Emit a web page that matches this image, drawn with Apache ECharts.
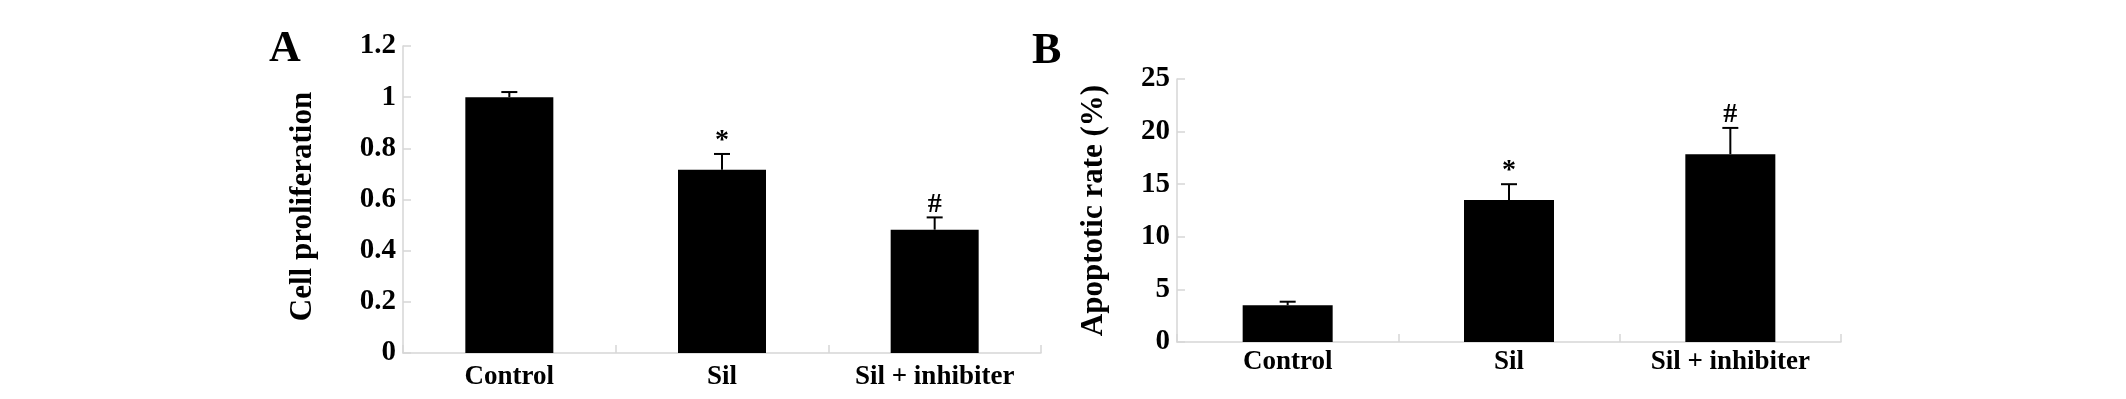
<!DOCTYPE html>
<html>
<head>
<meta charset="utf-8">
<script src="https://cdn.jsdelivr.net/npm/echarts@6/dist/echarts.min.js"></script>
<style>
  html, body { margin: 0; padding: 0; background: #fff; }
  #chart { width: 2126px; height: 399px; }
</style>
</head>
<body>
<div id="chart"></div>
<script>
  // data
  const categories = ['Control', 'Sil', 'Sil + inhibiter']
  const prolifMean = [1.0, 0.716, 0.482]
  const prolifErr = [0.02, 0.062, 0.048]
  const apopMean = [3.5, 13.5, 17.85]
  const apopErr = [0.33, 1.5, 2.5]
  const marks = ['', '*', '#']
  const prolifTicks = [0, 0.2, 0.4, 0.6, 0.8, 1, 1.2]
  const apopTicks = [0, 5, 10, 15, 20, 25]

  const serif = '"Liberation Serif", "Times New Roman", serif'
  const axisGray = '#d6d6d6'

  function errorSeries(idx, mean, err) {
    return {
      type: 'custom',
      xAxisIndex: idx,
      yAxisIndex: idx,
      z: 5,
      data: mean.map((m, i) => [i, m, err[i], marks[i]]),
      renderItem: (params, api) => {
        const i = api.value(0)
        const base = api.coord([i, api.value(1)])
        const top = api.coord([i, api.value(1) + api.value(2)])
        const mark = marks[params.dataIndex]
        const children = [{
          type: 'line',
          shape: { x1: base[0], y1: base[1], x2: top[0], y2: top[1] },
          style: { stroke: '#000', lineWidth: 2 }
        }, {
          type: 'line',
          shape: { x1: top[0] - 8, y1: top[1], x2: top[0] + 8, y2: top[1] },
          style: { stroke: '#000', lineWidth: 2 }
        }]
        if (mark) {
          children.push({
            type: 'text',
            style: {
              text: mark,
              x: top[0],
              y: top[1] + 1,
              fill: '#000',
              font: 'bold 28px ' + serif,
              align: 'center',
              verticalAlign: 'bottom'
            }
          })
        }
        return { type: 'group', children: children }
      }
    }
  }

  function yAxis(idx, max, interval, name, gap, pad) {
    return {
      type: 'value',
      gridIndex: idx,
      min: 0,
      max: max,
      interval: interval,
      name: name,
      nameLocation: 'middle',
      nameRotate: 90,
      nameGap: gap,
      nameTextStyle: { fontFamily: serif, fontWeight: 'bold', fontSize: 31, color: '#000', padding: pad },
      axisLine: { show: true, lineStyle: { color: axisGray, width: 1.5 } },
      axisTick: { show: true, inside: true, length: 8, lineStyle: { color: axisGray, width: 1.5 } },
      axisLabel: { fontFamily: serif, fontWeight: 'bold', fontSize: 29, color: '#000', margin: 7 },
      splitLine: { show: false }
    }
  }

  function xAxis(idx, margin) {
    return {
      type: 'category',
      gridIndex: idx,
      data: categories,
      axisLine: { show: true, lineStyle: { color: axisGray, width: 1.5 } },
      axisTick: { show: true, inside: true, length: 8, lineStyle: { color: axisGray, width: 1.5 } },
      axisLabel: { fontFamily: serif, fontWeight: 'bold', fontSize: 27, color: '#000', margin: margin, interval: 0 }
    }
  }

  const option = {
    backgroundColor: '#fff',
    animation: false,
    grid: [
      { left: 403, top: 46, width: 638, height: 307 },
      { left: 1177, top: 79, width: 664, height: 263 }
    ],
    xAxis: [xAxis(0, 11), xAxis(1, 7)],
    yAxis: [
      yAxis(0, prolifTicks[prolifTicks.length - 1], prolifTicks[1], 'Cell proliferation', 85, [0, 14, 0, 0]),
      yAxis(1, apopTicks[apopTicks.length - 1], apopTicks[1], 'Apoptotic rate (%)', 68, 0)
    ],
    graphic: [
      { type: 'text', left: 269, top: 28, style: { text: 'A', font: 'bold 44px ' + serif, fill: '#000' } },
      { type: 'text', left: 1032, top: 30, style: { text: 'B', font: 'bold 44px ' + serif, fill: '#000' } }
    ],
    series: [
      {
        type: 'bar',
        xAxisIndex: 0,
        yAxisIndex: 0,
        data: prolifMean,
        barWidth: 88,
        itemStyle: { color: '#000' }
      },
      {
        type: 'bar',
        xAxisIndex: 1,
        yAxisIndex: 1,
        data: apopMean,
        barWidth: 90,
        itemStyle: { color: '#000' }
      },
      errorSeries(0, prolifMean, prolifErr),
      errorSeries(1, apopMean, apopErr)
    ]
  }

  const chart = echarts.init(document.getElementById('chart'))
  chart.setOption(option)
</script>
</body>
</html>
